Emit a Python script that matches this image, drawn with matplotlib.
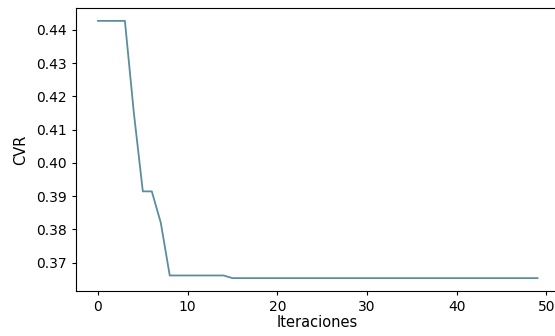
import matplotlib
matplotlib.use("Agg")
import matplotlib.pyplot as plt

iterations = list(range(50))
cvr = ([0.4427] * 4 + [0.4150, 0.3914, 0.3914, 0.3820] +
       [0.3661] * 7 + [0.3653] * 35)

fig = plt.figure(figsize=(5.55, 3.36), dpi=100)
ax = fig.add_axes([76/555, 1 - 291/336, (559.5 - 76)/555, (291 - 8)/336])
ax.plot(iterations, cvr, color='#5a8e9c', linewidth=1.3)
ax.set_xlabel('Iteraciones', fontsize=10.5, labelpad=1)
ax.set_ylabel('CVR', fontsize=10.5, labelpad=6)
ax.tick_params(labelsize=10, length=3)
ax.set_xticks([0, 10, 20, 30, 40, 50])
ax.set_yticks([0.37, 0.38, 0.39, 0.40, 0.41, 0.42, 0.43, 0.44])
ax.set_yticklabels(['0.37', '0.38', '0.39', '0.40', '0.41', '0.42', '0.43', '0.44'])
fig.savefig('out.png', dpi=100)
